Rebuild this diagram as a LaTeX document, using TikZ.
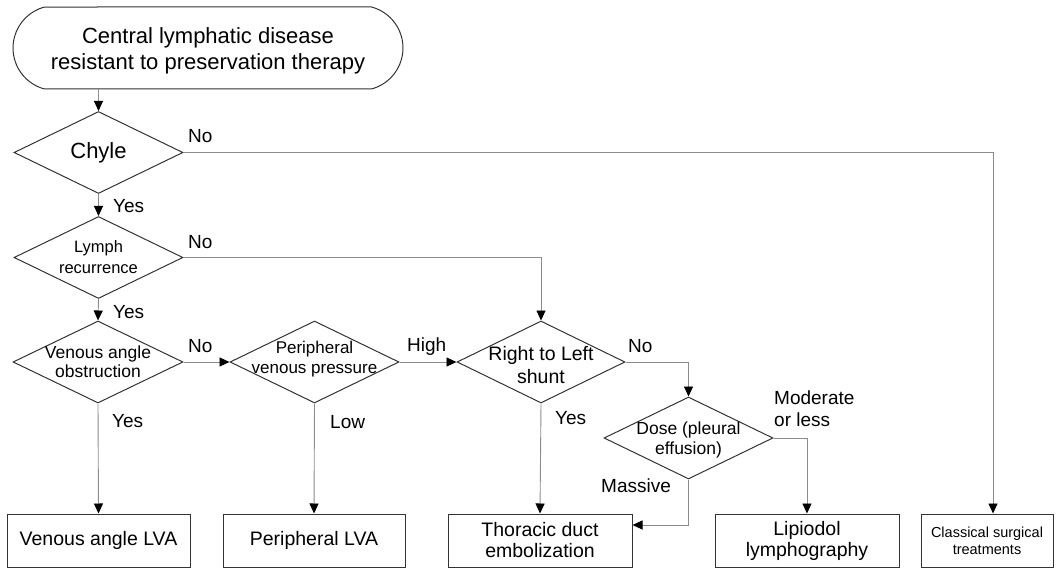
\documentclass[tikz,border=0pt]{standalone}
\usepackage{fontspec}
\setmainfont{Liberation Sans}
\usetikzlibrary{shapes.geometric,shapes.misc,arrows.meta}

\tikzset{
  decision/.style={draw=black!80, line width=1pt, diamond, minimum width=169pt, minimum height=82pt, inner sep=0pt},
  dtext/.style={align=center, inner sep=0pt, font=\fontsize{17}{20}\selectfont},
  outcome/.style={draw=black!80, line width=1pt, rectangle, minimum width=184pt, minimum height=53pt, inner sep=0pt, align=center, font=\fontsize{19.5}{21}\selectfont},
  lbl/.style={anchor=base west, inner sep=0pt, font=\fontsize{19}{22}\selectfont},
  arr/.style={draw=black!45, line width=0.9pt, -{Triangle[color=black, width=9pt, length=10pt]}},
}

\begin{document}
\begin{tikzpicture}[x=1pt, y=-1pt]
    \useasboundingbox (0,0) rectangle (1059,569);
    \node[draw=black!80, line width=1pt, rounded rectangle, rounded rectangle arc length=150, minimum width=390pt, minimum height=82pt, inner sep=0pt, label={[dtext, yshift=-3pt, font=\fontsize{22}{26}\selectfont]center:{Central lymphatic disease\\resistant to preservation therapy}}] (start) at (208,48) {}; % start

    % decisions
    \node[decision, label={[dtext, font=\fontsize{22}{26}\selectfont]center:Chyle}] (chyle) at (98.5,152.5) {};
    \node[decision, label={[dtext, font=\fontsize{16.5}{21}\selectfont]center:{Lymph\\recurrence}}] (lymph) at (98.5,257.5) {};
    \node[decision, minimum width=170pt, label={[dtext, font=\fontsize{17.5}{19}\selectfont]center:{Venous angle\\obstruction}}] (vao) at (98,362) {};
    \node[decision, label={[dtext, yshift=3pt]center:{Peripheral\\venous pressure}}] (pvp) at (314.5,362) {};
    \node[decision, minimum width=168pt, label={[dtext, yshift=-3pt, font=\fontsize{19.5}{23}\selectfont]center:{Right to Left\\shunt}}] (rl) at (541,362) {};
    \node[decision, label={[dtext, yshift=-2pt, font=\fontsize{17.5}{20}\selectfont]center:{Dose (pleural\\effusion)}}] (dose) at (688.5,438) {};

    % treatments
    \node[outcome, minimum width=183pt] (valva) at (98.5,540.5) {Venous angle LVA};
    \node[outcome, minimum width=182pt] (plva) at (314,540.5) {Peripheral LVA};
    \node[outcome] (tde) at (540,540.5) {Thoracic duct\\embolization};
    \node[outcome] (lipiodol) at (807,540.5) {Lipiodol\\lymphography};
    \node[outcome, minimum width=132pt, font=\fontsize{14.5}{17}\selectfont] (classical) at (987,540.5) {Classical surgical\\treatments};

    % connectors
    \draw[arr] (start.south -| chyle.north) -- (chyle.north);
    \draw[arr] (chyle.south) -- (lymph.north);
    \draw[arr] (lymph.south) -- (vao.north);
    \draw[arr] (chyle.east) -| ([xshift=6pt]classical.north); % no chyle
    \draw[arr] (lymph.east) -| (rl.north); % no recurrence
    \draw[arr] (vao.east) -- (pvp.west);
    \draw[arr] (pvp.east) -- (rl.west);
    \draw[arr] (rl.east) -| (dose.north);
    \draw[arr] (dose.east) -| (lipiodol.north);
    \draw[arr] (dose.south) |- ([yshift=15.5pt]tde.east); % massive
    \draw[arr] (vao.south) -- (valva.north);
    \draw[arr] (pvp.south) -- (plva.north);
    \draw[arr] (rl.south) -- (tde.north);

    % branch labels
    \node[lbl] (chyleno) at (188,143) {No};
    \node[lbl] (chyleyes) at (113,213) {Yes};
    \node[lbl] (lymphno) at (188,248) {No};
    \node[lbl] (lymphyes) at (113,318) {Yes};
    \node[lbl] (vaono) at (188,352) {No};
    \node[lbl] (vaoyes) at (112,427) {Yes};
    \node[lbl] (pvphigh) at (407,351) {High};
    \node[lbl] (pvplow) at (330,428) {Low};
    \node[lbl] (rlno) at (628,352) {No};
    \node[lbl] (rlyes) at (555,424) {Yes};
    \node[lbl, anchor=west, align=left] (dosemod) at (774,409) {Moderate\\or less};
    \node[lbl] (dosemassive) at (601,492) {Massive};
\end{tikzpicture}
\end{document}
